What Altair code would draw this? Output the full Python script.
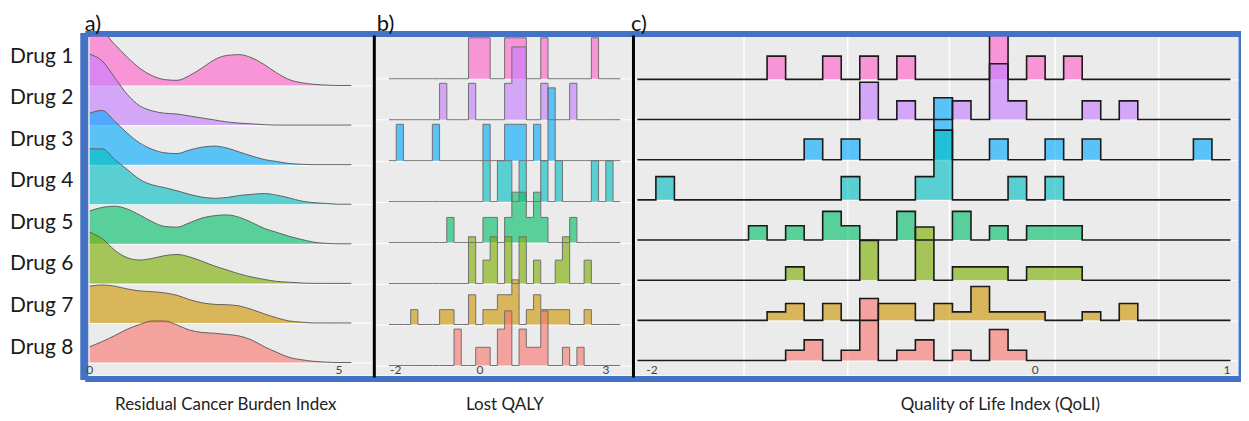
import altair as alt
import pandas as pd

DRUGS = ["Drug 1", "Drug 2", "Drug 3", "Drug 4", "Drug 5", "Drug 6", "Drug 7", "Drug 8"]
FILL_COLORS = ["#FF61CC", "#C77CFF", "#00A9FF", "#00BFC4", "#00BE67", "#7CAE00", "#CD9600", "#F8766D"]

# a) Residual Cancer Burden Index: density heights (in ridge-spacing units)
RCB_X = [0.0, 0.25, 0.5, 0.75, 1.0, 1.25, 1.5, 1.75, 2.0, 2.25, 2.5, 2.75,
         3.0, 3.25, 3.5, 3.75, 4.0, 4.25, 4.5, 4.75, 5.0, 5.25]
RCB_DENSITY = [
    [1.28, 1.33, 1.04, 0.72, 0.44, 0.25, 0.15, 0.13, 0.25, 0.44, 0.65, 0.76, 0.78, 0.70, 0.53, 0.32, 0.15, 0.07, 0.03, 0.01, 0.0, 0.0],
    [1.79, 1.62, 1.20, 0.78, 0.49, 0.36, 0.30, 0.28, 0.23, 0.18, 0.13, 0.08, 0.05, 0.03, 0.01, 0.0, 0.0, 0.0, 0.0, 0.0, 0.0, 0.0],
    [1.30, 1.37, 1.10, 0.80, 0.55, 0.39, 0.30, 0.28, 0.37, 0.44, 0.47, 0.42, 0.32, 0.22, 0.13, 0.08, 0.03, 0.01, 0.0, 0.0, 0.0, 0.0],
    [1.40, 1.40, 1.13, 0.88, 0.63, 0.49, 0.42, 0.34, 0.25, 0.18, 0.15, 0.17, 0.22, 0.25, 0.27, 0.23, 0.16, 0.08, 0.04, 0.02, 0.0, 0.0],
    [0.83, 0.92, 0.95, 0.88, 0.73, 0.56, 0.44, 0.42, 0.53, 0.65, 0.71, 0.73, 0.67, 0.54, 0.39, 0.29, 0.19, 0.11, 0.04, 0.01, 0.0, 0.0],
    [1.29, 1.13, 0.84, 0.65, 0.59, 0.63, 0.70, 0.73, 0.67, 0.56, 0.44, 0.34, 0.24, 0.16, 0.10, 0.05, 0.03, 0.01, 0.0, 0.0, 0.0, 0.0],
    [0.93, 0.96, 0.93, 0.86, 0.81, 0.79, 0.76, 0.70, 0.59, 0.51, 0.47, 0.46, 0.43, 0.34, 0.23, 0.13, 0.05, 0.02, 0.0, 0.0, 0.0, 0.0],
    [0.40, 0.53, 0.68, 0.84, 0.96, 1.05, 1.05, 0.95, 0.82, 0.76, 0.74, 0.71, 0.67, 0.57, 0.40, 0.26, 0.13, 0.07, 0.03, 0.01, 0.0, 0.0],
]
RCB_TICKS = [0, 5]

# b) Lost QALY: histogram counts per bin (32 bins)
QALY_BIN_START = -2.160
QALY_BIN_WIDTH = 0.1718
QALY_COUNTS = [
    [0,0,0,0,0,0,0,0,0,0,0,1,1,1,0,0,1,1,1,0,0,1,0,0,0,0,0,0,1,0,0,0],
    [0,0,0,0,0,0,0,1,0,0,0,1,0,0,0,0,1,2,2,0,0,1,0,0,0,1,0,0,0,0,0,0],
    [0,1,0,0,0,0,1,0,0,0,0,0,0,1,0,0,1,1,1,0,1,0,2,0,0,0,0,0,0,0,0,0],
    [0,0,0,0,0,0,0,0,0,0,0,0,0,1,0,1,1,0,1,0,0,1,0,1,0,0,0,0,1,0,1,0],
    [0,0,0,0,0,0,0,0,1,0,0,0,0,1,1,0,1,2,2,1,2,1,0,0,0,1,0,0,0,0,0,0],
    [0,0,0,0,0,0,0,0,0,0,0,2,0,1,2,0,2,0,2,0,1,0,0,1,2,0,0,1,0,0,0,0],
    [0,0,0,1,0,0,0,1,1,0,0,2,0,1,1,2,2,3,0,1,2,1,1,1,1,0,0,1,0,0,0,0],
    [0,0,0,0,0,0,0,0,0,2,0,0,1,1,0,2,3,0,2,1,1,3,0,0,1,0,1,0,0,0,0,0],
]
QALY_TICKS = [-2, 0, 3]

# c) Quality of Life Index: histogram counts per bin (32 bins)
QOLI_BIN_START = -2.076
QOLI_BIN_WIDTH = 0.0967
QOLI_COUNTS = [
    [0,0,0,0,0,0,0,1,0,0,1,0,1,0,1,0,0,0,0,2,0,1,0,1,0,0,0,0,0,0,0,0],
    [0,0,0,0,0,0,0,0,0,0,0,0,2,0,1,0,0,1,0,3,1,0,0,0,1,0,1,0,0,0,0,0],
    [0,0,0,0,0,0,0,0,0,1,0,1,0,0,0,0,3,0,0,1,0,0,1,0,1,0,0,0,0,0,1,0],
    [0,1,0,0,0,0,0,0,0,0,0,1,0,0,0,1,3,0,0,0,1,0,1,0,0,0,0,0,0,0,0,0],
    [0,0,0,0,0,0,1,0,1,0,2,1,0,0,2,0,0,2,0,1,0,1,1,1,0,0,0,0,0,0,0,0],
    [0,0,0,0,0,0,0,0,1,0,0,0,3,0,0,4,0,1,1,1,0,1,1,1,0,0,0,0,0,0,0,0],
    [0,0,0,0,0,0,0,1,2,0,2,0,0,2,2,0,2,1,4,1,1,1,0,0,1,0,2,0,0,0,0,0],
    [0,0,0,0,0,0,0,0,1,2,0,1,6,0,1,2,0,1,0,3,1,0,0,0,0,0,0,0,0,0,0,0],
]
QOLI_TICKS = [-2, 0, 1]
QOLI_GRID = [-1.52, -0.98, -0.45, 0.10, 0.64]

AXIS_TITLES = ["Residual Cancer Burden Index", "Lost QALY", "Quality of Life Index (QoLI)"]
PANEL_TAGS = ["a)", "b)", "c)"]

# ---------------------------------------------------------------- styling
GRAY = "#ebebeb"
BLUE = "#4472C4"
FONT = "Lato"
H = 340
QALY_SCALE = 8.0
QOLI_SCALE = 4.63


def density_frame():
    rows = []
    for i, drug in enumerate(DRUGS):
        base = 7 - i
        for x, h in zip(RCB_X, RCB_DENSITY[i]):
            rows.append({"drug": drug, "x": x, "base": base, "top": base + h})
    return pd.DataFrame(rows)


def hist_frame(counts, start, width, scale):
    rows = []
    for i, drug in enumerate(DRUGS):
        base = 7 - i
        n = sum(counts[i])
        vals = list(counts[i]) + [0]
        for k, c in enumerate(vals):
            rows.append({"drug": drug, "x": start + k * width, "base": base,
                         "top": base + scale * c / n})
    return pd.DataFrame(rows)


def panel(df, ticks, xdom, ydom, width, interp, line_color, line_width,
          title, title_x, tag, tag_dx, left_color, left_width, left_offset,
          right_border=False, xgrid=None):
    xs = alt.Scale(domain=xdom, nice=False, zero=False)
    ys = alt.Scale(domain=ydom, nice=False, zero=False)
    top_axis = alt.Axis(orient="top", domainColor=BLUE, domainWidth=6, offset=3,
                        domainCap="square", ticks=False, labels=False, grid=False,
                        title=None)
    bottom_kw = dict(orient="bottom", domainColor=BLUE, domainWidth=6, offset=3,
                     domainCap="square", ticks=False, labels=False,
                     title=title, titleFont=FONT, titleFontSize=17,
                     titleFontWeight="normal", titleColor="#222222",
                     titleX=title_x, titleY=31, titleBaseline="alphabetic",
                     titleAlign="center")
    if xgrid is not None:
        bottom_kw.update(grid=True, values=xgrid, gridColor="white", gridWidth=1.5)
    else:
        bottom_kw.update(grid=False)
    bottom_axis = alt.Axis(**bottom_kw)
    left_axis = alt.Axis(orient="left", domainColor=left_color, domainWidth=left_width,
                         offset=left_offset, domainCap="square", ticks=False,
                         labels=False, grid=True, values=list(range(8)),
                         gridColor="white", gridWidth=1, title=None)
    if right_border:
        right_axis = alt.Axis(orient="right", domainColor=BLUE, domainWidth=6,
                              offset=3, domainCap="square", ticks=False,
                              labels=False, grid=False, title=None)
    else:
        right_axis = alt.Axis(orient="right", domain=False, ticks=False,
                              labels=False, grid=False, title=None)

    area = alt.Chart(df).mark_area(interpolate=interp, opacity=0.62, clip=True).encode(
        x=alt.X("x:Q", scale=xs, axis=top_axis),
        y=alt.Y("top:Q", scale=ys, axis=left_axis, stack=None),
        y2="base:Q",
        color=alt.Color("drug:N", scale=alt.Scale(domain=DRUGS, range=FILL_COLORS),
                        legend=None),
    )
    line = alt.Chart(df).mark_line(interpolate=interp, color=line_color,
                                   strokeWidth=line_width, clip=True).encode(
        x=alt.X("x:Q", scale=xs, axis=bottom_axis),
        y=alt.Y("top:Q", scale=ys, axis=right_axis),
        detail="drug:N",
    )
    tick_df = pd.DataFrame({"v": ticks, "label": [str(t) for t in ticks]})
    tick_text = alt.Chart(tick_df).mark_text(font=FONT, fontSize=12, color="#444444",
                                             baseline="alphabetic", align="center").encode(
        x=alt.X("v:Q", scale=xs, axis=None),
        y=alt.value(H - 1),
        text="label:N",
    )
    tag_text = alt.Chart(pd.DataFrame({"t": [tag]})).mark_text(
        font=FONT, fontSize=22, color="#111111", align="left", baseline="alphabetic"
    ).encode(x=alt.value(tag_dx), y=alt.value(-6), text="t:N")

    return alt.layer(area, line, tick_text, tag_text).properties(
        width=width, height=H,
        view=alt.ViewBackground(fill=GRAY, strokeWidth=0),
    )


labels_df = pd.DataFrame({"drug": DRUGS, "pos": [7 - i for i in range(len(DRUGS))]})
labels = alt.Chart(labels_df).mark_text(
    font=FONT, fontSize=21, color="#1a1a1a", align="left", baseline="alphabetic"
).encode(
    x=alt.value(0),
    y=alt.Y("pos:Q", scale=alt.Scale(domain=[-0.528, 7.626], nice=False, zero=False),
            axis=None),
    text="drug:N",
).properties(width=78, height=H, view=alt.ViewBackground(strokeWidth=0))

pa = panel(density_frame(), RCB_TICKS, [-0.04, 5.70], [-0.327, 8.237], 287,
           "monotone", "#606060", 1.0, AXIS_TITLES[0], 138, PANEL_TAGS[0], -3,
           BLUE, 8, 4)
pb = panel(hist_frame(QALY_COUNTS, QALY_BIN_START, QALY_BIN_WIDTH, QALY_SCALE),
           QALY_TICKS, [-2.521, 3.640], [-0.243, 8.03], 260,
           "step-after", "#707070", 1.0, AXIS_TITLES[1], 131, PANEL_TAGS[1], 3,
           "#000000", 3, 0)
pc = panel(hist_frame(QOLI_COUNTS, QOLI_BIN_START, QOLI_BIN_WIDTH, QOLI_SCALE),
           QOLI_TICKS, [-2.0988, 1.0577], [-0.372, 8.065], 607,
           "step-after", "#1a1a1a", 1.6, AXIS_TITLES[2], 368, PANEL_TAGS[2], -2,
           "#000000", 3, 0, right_border=True, xgrid=QOLI_GRID)

chart = alt.hconcat(labels, pa, pb, pc, spacing=0, bounds="flush").properties(
    padding={"left": 2, "top": 4, "right": 0, "bottom": 0}
).configure_view(strokeWidth=0)

chart.save("out.html", embed_options={"renderer": "svg", "actions": False})
